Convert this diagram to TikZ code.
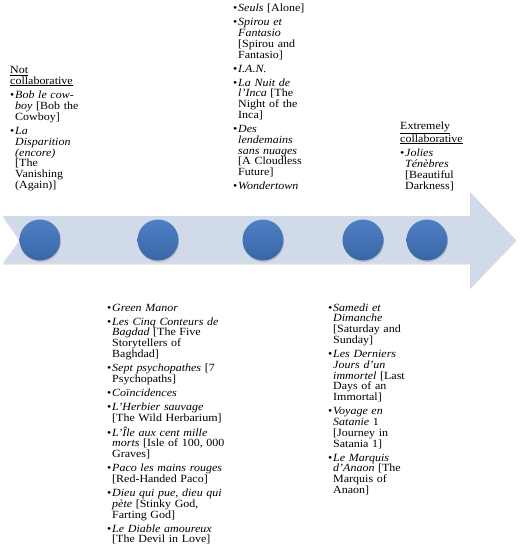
\documentclass[tikz,border=0pt]{standalone}
\usepackage{fontspec}
\setmainfont{Liberation Serif}[FakeStretch=1.09]
\usetikzlibrary{shadows}
\definecolor{bandblue}{HTML}{D1DAE8}
\definecolor{dottop}{HTML}{4D80C4}
\definecolor{dotbot}{HTML}{3A66A6}

% one bullet entry, hanging indent after the bullet
\newcommand{\bul}[2][3.2pt]{\par\vspace{#1}\noindent\hangindent=5pt\relax\hangafter=1\relax\makebox[5pt][l]{\textbullet}#2\par}

\begin{document}
\begin{tikzpicture}[
    x=1pt, y=-1pt,
    dot/.style={circle, minimum size=41pt, inner sep=0pt, top color=dottop, bottom color=dotbot, drop shadow={opacity=0.3, shadow xshift=0.6pt, shadow yshift=-1.5pt}},
    note/.style={inner sep=0pt, align=left, text width=140pt, font=\fontsize{11}{10.8}\selectfont}
]
\useasboundingbox (0,0) rectangle (520,547);

% timeline band
\fill[bandblue, drop shadow={opacity=0.25, shadow xshift=0pt, shadow yshift=-1.5pt}]
    (3,216) -- (470,216) -- (470,192) -- (516,240) -- (470,288) -- (470,263) -- (3,263) -- (20,240) -- cycle;

\node[dot] (d1) at (40,240) {};
\node[dot] (d2) at (158,240) {};
\node[dot] (d3) at (263,240) {};
\node[dot] (d4) at (363,240) {};
\node[dot] (d5) at (427,240) {};

% above the band
\node[note, anchor=south west] (notcollab) at (10,191) {\noindent\underline{Not}\newline\underline{collaborative}%
  \bul[4pt]{\textit{Bob le cow-}\newline\textit{boy} [Bob the\newline Cowboy]}%
  \bul{\textit{La}\newline\textit{Disparition}\newline\textit{(encore)}\newline[The\newline Vanishing\newline(Again)]}};

\node[note, anchor=south west] (middle) at (233,190) {%
  \bul[0pt]{\textit{Seuls} [Alone]}%
  \bul{\textit{Spirou et}\newline\textit{Fantasio}\newline[Spirou and\newline Fantasio]}%
  \bul{\textit{I.A.N.}}%
  \bul{\textit{La Nuit de}\newline\textit{l'Inca} [The\newline Night of the\newline Inca]}%
  \bul{\textit{Des}\newline\textit{lendemains}\newline\textit{sans nuages}\newline[A Cloudless\newline Future]}%
  \bul{\textit{Wondertown}}};

\node[note, anchor=south west] (extcollab) at (400,191) {\noindent\underline{Extremely}\newline\underline{collaborative}%
  \bul[4pt]{\textit{Jolies}\newline\textit{Ténèbres}\newline[Beautiful\newline Darkness]}};

% below the band
\node[note, anchor=north west] (lower) at (107,300) {%
  \bul[0pt]{\textit{Green Manor}}%
  \bul{\textit{Les Cinq Conteurs de}\newline\textit{Bagdad} [The Five\newline Storytellers of\newline Baghdad]}%
  \bul{\textit{Sept psychopathes} [7\newline Psychopaths]}%
  \bul{\textit{Coïncidences}}%
  \bul{\textit{L'Herbier sauvage}\newline[The Wild Herbarium]}%
  \bul{\textit{L'Île aux cent mille}\newline\textit{morts} [Isle of 100, 000\newline Graves]}%
  \bul{\textit{Paco les mains rouges}\newline[Red-Handed Paco]}%
  \bul{\textit{Dieu qui pue, dieu qui}\newline\textit{pète} [Stinky God,\newline Farting God]}%
  \bul{\textit{Le Diable amoureux}\newline[The Devil in Love]}};

\node[note, anchor=north west] (lowright) at (328,300) {%
  \bul[0pt]{\textit{Samedi et}\newline\textit{Dimanche}\newline[Saturday and\newline Sunday]}%
  \bul{\textit{Les Derniers}\newline\textit{Jours d'un}\newline\textit{immortel} [Last\newline Days of an\newline Immortal]}%
  \bul{\textit{Voyage en}\newline\textit{Satanie} 1\newline[Journey in\newline Satania 1]}%
  \bul{\textit{Le Marquis}\newline\textit{d'Anaon} [The\newline Marquis of\newline Anaon]}};
\end{tikzpicture}
\end{document}
